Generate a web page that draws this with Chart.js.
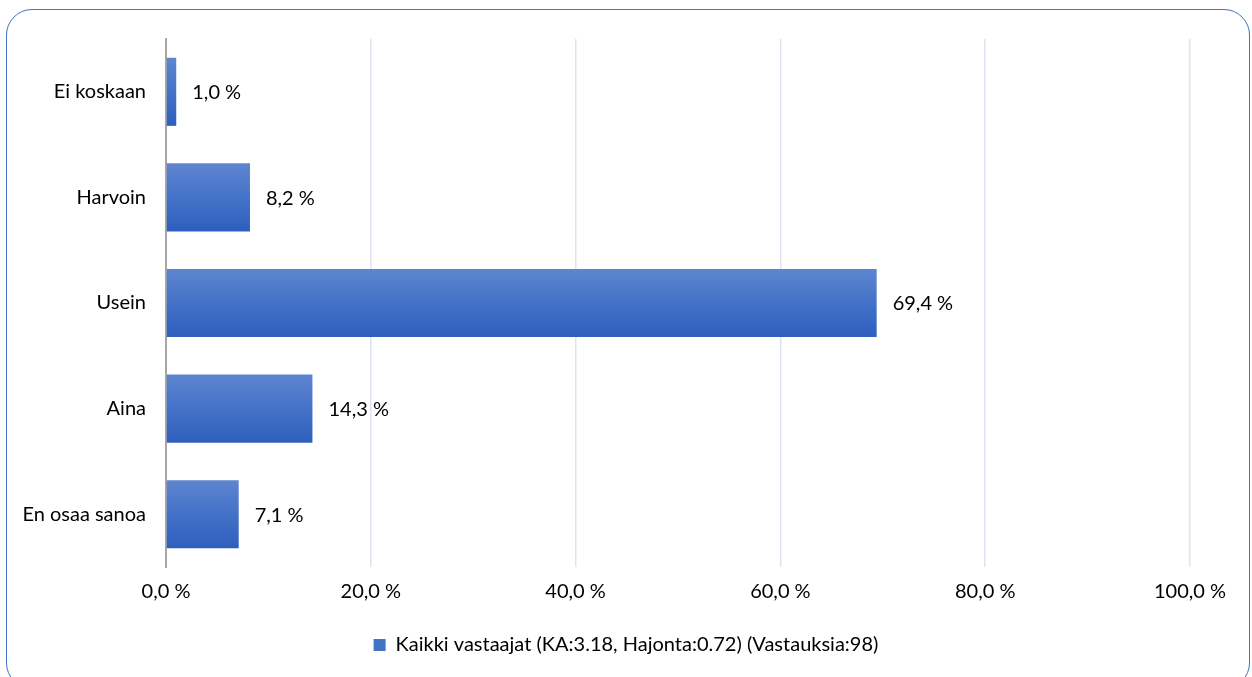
<!DOCTYPE html>
<html>
<head>
<meta charset="utf-8">
<script src="https://cdn.jsdelivr.net/npm/chart.js@4/dist/chart.umd.min.js"></script>
<style>
    html, body { margin: 0; padding: 0; background: #ffffff; overflow: hidden; }
    #frame {
        position: absolute; left: 6px; top: 9px;
        width: 1244px; height: 680px;
        border: 1.5px solid #4472c4; border-radius: 26px;
        box-sizing: border-box;
    }
    #wrap { position: absolute; left: 0; top: 0; width: 1252px; height: 677px; }
</style>
</head>
<body>
<div id="frame"></div>
<div id="wrap"><canvas id="chart"></canvas></div>
<script>
// Kategoriat ja arvot (%)
const categories = ["Ei koskaan", "Harvoin", "Usein", "Aina", "En osaa sanoa"];
const values = [1.0, 8.2, 69.4, 14.3, 7.1];
const seriesLabel = "Kaikki vastaajat (KA:3.18, Hajonta:0.72) (Vastauksia:98)";
const xMax = 100;
const xStep = 20;

const FONT = "Lato, 'Open Sans', sans-serif";
const FONT_SIZE = 20;
const BAR_PCT = 0.645;

function formatPct(v) {
    return v.toFixed(1).replace('.', ',') + ' %';
}

// Pystysuuntainen liukuväri jokaiselle palkille
function barGradient(context) {
    const chart = context.chart;
    const area = chart.chartArea;
    const yScale = chart.scales.y;
    if (!area || !yScale || context.type !== 'data') return '#4472c4';
    const center = yScale.getPixelForValue(context.dataIndex);
    const half = (area.bottom - area.top) / categories.length * BAR_PCT / 2;
    if (!isFinite(center) || !isFinite(half) || half <= 0) return '#4472c4';
    const g = chart.ctx.createLinearGradient(0, center - half, 0, center + half);
    g.addColorStop(0, '#5e85d0');
    g.addColorStop(0.5, '#4472c8');
    g.addColorStop(1, '#2e5fbd');
    return g;
}

// Arvotekstit palkkien perään
const valueLabels = {
    id: 'valueLabels',
    afterDatasetsDraw(chart) {
        const ctx = chart.ctx;
        const meta = chart.getDatasetMeta(0);
        ctx.save();
        ctx.font = FONT_SIZE + "px " + FONT;
        ctx.fillStyle = '#000000';
        ctx.textAlign = 'left';
        ctx.textBaseline = 'middle';
        meta.data.forEach((bar, i) => {
            ctx.fillText(formatPct(values[i]), bar.x + 16, bar.y + 1);
        });
        ctx.restore();
    }
};

const ctx = document.getElementById('chart').getContext('2d');

new Chart(ctx, {
    type: 'bar',
    data: {
        labels: categories,
        datasets: [{
            label: seriesLabel,
            data: values,
            backgroundColor: barGradient,
            borderWidth: 0,
            categoryPercentage: 1.0,
            barPercentage: BAR_PCT
        }]
    },
    options: {
        indexAxis: 'y',
        responsive: true,
        maintainAspectRatio: false,
        animation: false,
        layout: {
            padding: { left: 0, top: 39, right: 0, bottom: 12 }
        },
        scales: {
            x: {
                min: 0,
                max: xMax,
                ticks: {
                    stepSize: xStep,
                    padding: 13,
                    color: '#000000',
                    font: { family: FONT, size: FONT_SIZE },
                    callback: v => formatPct(v)
                },
                grid: {
                    color: '#dde4f0',
                    lineWidth: 1.5,
                    drawTicks: false
                },
                border: { display: false },
                afterFit: scale => { scale.height = 58; }
            },
            y: {
                ticks: {
                    padding: 20,
                    color: '#000000',
                    font: { family: FONT, size: FONT_SIZE }
                },
                grid: { display: false, drawTicks: false },
                border: { display: true, color: '#a6a6a6', width: 2 },
                afterFit: scale => { scale.width = 166; }
            },
            // tyhjä tila oikealla, jotta selite pysyy keskellä
            spacer: {
                type: 'linear',
                position: 'right',
                ticks: { display: false },
                grid: { display: false, drawTicks: false },
                border: { display: false },
                afterFit: scale => { scale.width = 62; }
            }
        },
        plugins: {
            legend: {
                position: 'bottom',
                labels: {
                    color: '#000000',
                    font: { family: FONT, size: FONT_SIZE },
                    boxWidth: 12,
                    boxHeight: 12,
                    padding: 10,
                    generateLabels: chart => [{
                        text: seriesLabel,
                        fillStyle: '#4472c4',
                        strokeStyle: '#4472c4',
                        lineWidth: 0,
                        hidden: false,
                        datasetIndex: 0
                    }]
                }
            },
            tooltip: { enabled: false }
        }
    },
    plugins: [valueLabels]
});
</script>
</body>
</html>
